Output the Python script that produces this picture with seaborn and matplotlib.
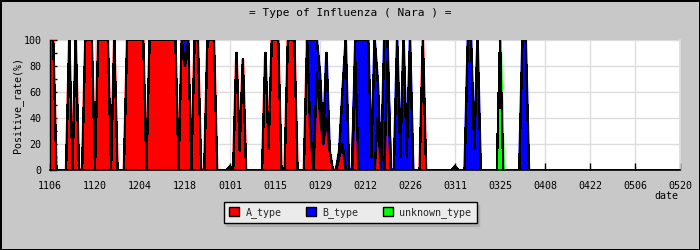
import numpy as np
import pandas as pd
import matplotlib
matplotlib.use("Agg")
import matplotlib.pyplot as plt
import seaborn as sns
from matplotlib.patches import Patch
from matplotlib.ticker import MultipleLocator

# ---------------- data ----------------
# day offsets from 2007-11-06 (day 0) to 2008-05-20 (day 196)
n_days = 197
tick_days = [0, 14, 28, 42, 56, 70, 84, 98, 112, 126, 140, 154, 168, 182, 196]
tick_labels = ["1106", "1120", "1204", "1218", "0101", "0115", "0129", "0212",
               "0226", "0311", "0325", "0408", "0422", "0506", "0520"]

# positive rate (%) per day, days not listed are 0
a_type = {0: 100, 1: 100, 6: 100, 8: 100, 11: 100, 12: 100, 13: 100,
          15: 100, 16: 100, 17: 100, 18: 100, 20: 100,
          24: 100, 25: 100, 26: 100, 27: 100, 28: 100, 29: 100,
          31: 100, 32: 100, 33: 100, 34: 100, 35: 100, 36: 100, 37: 100, 38: 100, 39: 100,
          41: 100, 42: 80, 43: 100, 45: 100, 46: 100, 49: 100, 50: 100, 51: 100,
          56: 3, 58: 90, 59: 15, 60: 85, 67: 90, 68: 16, 69: 100, 70: 100, 71: 100,
          74: 100, 75: 100, 76: 100, 80: 100, 81: 30, 83: 75, 84: 44, 85: 20, 86: 40,
          87: 15, 90: 10, 91: 20, 95: 83, 102: 42, 105: 83, 116: 100}
b_type = {42: 20, 81: 70, 82: 100, 83: 25, 84: 30, 86: 50, 90: 5, 91: 40, 92: 100,
          95: 17, 96: 100, 97: 100, 98: 100, 99: 100, 100: 10, 101: 100, 102: 25,
          104: 100, 105: 17, 108: 100, 109: 10, 110: 100, 111: 10, 112: 100, 126: 3,
          130: 100, 131: 100, 132: 16, 133: 100, 147: 100, 148: 100}
unknown_type = {140: 100}

series_names = ["A_type", "B_type", "unknown_type"]
series_colors = ["#FF0000", "#0000FF", "#00FF00"]

# ---------------- build table ----------------
days = np.arange(n_days)
df = pd.DataFrame({
    "day": days,
    "A_type": [a_type.get(d, 0) for d in days],
    "B_type": [b_type.get(d, 0) for d in days],
    "unknown_type": [unknown_type.get(d, 0) for d in days],
})
tops = df[series_names].cumsum(axis=1)

# ---------------- style ----------------
sns.set_theme(style="whitegrid")
plt.rcParams["font.family"] = ["DejaVu Sans Mono", "DejaVu Sans"]

BG = "#C8C8C8"
fig = plt.figure(figsize=(7, 2.5), dpi=100, facecolor=BG)
fig.patch.set_edgecolor("black")
fig.patch.set_linewidth(2)
ax = fig.add_axes([50 / 700, 80 / 250, 630 / 700, 130 / 250])
ax.set_facecolor("white")

lower = np.zeros(n_days)
for name, col in zip(series_names, series_colors):
    upper = tops[name].values
    pos = df[name].values > 0
    # a segment is drawn where the series is non-zero at either end
    mask = pos | np.r_[pos[1:], False] | np.r_[False, pos[:-1]]
    ax.fill_between(days, lower, upper, where=mask, facecolor=col, edgecolor=col,
                    linewidth=1.9, zorder=2)
    lower = upper

long = tops.assign(day=days).melt(id_vars="day", var_name="type", value_name="top")
sns.lineplot(data=long, x="day", y="top", hue="type", palette=["black"] * 3,
             legend=False, linewidth=1.0, ax=ax, zorder=3, antialiased=False)

ax.set_xlim(0, 196)
ax.set_ylim(0, 100)
ax.set_xticks(tick_days)
ax.set_xticklabels(tick_labels)
ax.set_yticks([0, 20, 40, 60, 80, 100])
ax.yaxis.set_minor_locator(MultipleLocator(10))
ax.grid(True, which="major", color="#DDDDDD", linewidth=1)
ax.grid(False, which="minor")
ax.set_axisbelow(True)

ax.tick_params(axis="both", which="both", direction="in", length=5, width=1,
               color="black", labelsize=7.2, labelcolor="black")
ax.tick_params(axis="x", pad=8)
ax.tick_params(axis="y", pad=6)
ax.tick_params(axis="x", which="both", bottom=True)
ax.tick_params(axis="y", which="both", left=True)

ax.spines["top"].set_visible(False)
ax.spines["right"].set_color("#DDDDDD")
ax.spines["left"].set_color("black")
ax.spines["bottom"].set_color("black")
ax.spines["left"].set_linewidth(1)
ax.spines["bottom"].set_linewidth(1.2)
ax.spines["left"].set_zorder(5)
ax.spines["bottom"].set_zorder(5)

ax.set_ylabel("Positive_rate(%)", fontsize=7.2, color="black")
ax.yaxis.set_label_coords(-27 / 630, 0.5)
ax.set_xlabel("date", fontsize=7.2, color="black", ha="right")
ax.xaxis.set_label_coords(628 / 630, -21 / 130)

fig.text(0.5, 1 - 12.5 / 250, "= Type of Influenza ( Nara ) =", ha="center",
         va="center", fontsize=8, color="black")

handles = [Patch(facecolor=c, edgecolor="black", linewidth=1) for c in series_colors]
leg = fig.legend(handles, series_names, loc="center",
                 bbox_to_anchor=(350 / 700, 1 - 212.5 / 250), ncol=3,
                 frameon=True, fancybox=False,
                 shadow={"color": "#B0B0B0", "alpha": 1},
                 edgecolor="black", facecolor="#EBEBEB", framealpha=1,
                 fontsize=7.2, handlelength=1.0, handleheight=1.0,
                 handletextpad=0.7, columnspacing=2.4, borderpad=0.5)
leg.get_frame().set_linewidth(1)

fig.savefig("out.png", dpi=100, facecolor=BG, edgecolor="black")
